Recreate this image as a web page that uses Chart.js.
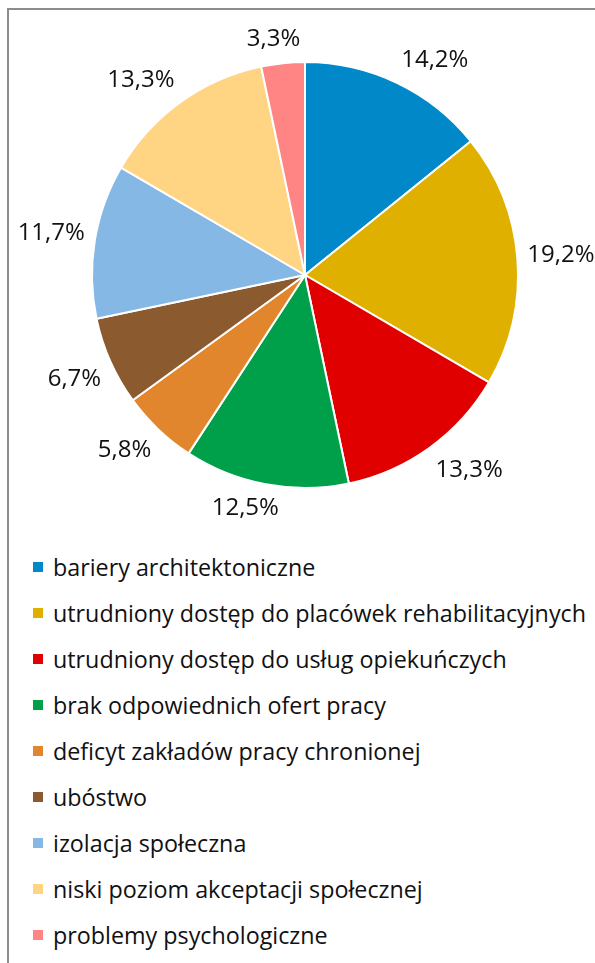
<!DOCTYPE html>
<html>
<head>
<meta charset="utf-8">
<script src="https://cdn.jsdelivr.net/npm/chart.js@4.4.1/dist/chart.umd.min.js"></script>
<style>
  body { margin: 0; background: #fff; font-family: "Open Sans", sans-serif; }
  #frame {
    position: absolute; left: 7px; top: 8px; width: 600px; height: 970px;
    border-left: 2px solid #8c8c8c; border-top: 2px solid #8c8c8c;
  }
  #wrap { position: absolute; left: 0; top: 0; width: 595px; height: 540px; }
  #legend { position: absolute; left: 0; top: 544px; margin: 0; padding: 0; list-style: none; }
  #legend li { height: 46px; display: flex; align-items: center; font-size: 23.3px; color: #111; white-space: nowrap; }
  #legend .box { width: 10px; height: 10px; margin-left: 33px; margin-right: 10px; flex: none; }
</style>
</head>
<body>
<div id="frame"></div>
<div id="wrap"><canvas id="chart" width="595" height="540"></canvas></div>
<ul id="legend"></ul>
<script>
const kategorie = [
  "bariery architektoniczne",
  "utrudniony dostęp do placówek rehabilitacyjnych",
  "utrudniony dostęp do usług opiekuńczych",
  "brak odpowiednich ofert pracy",
  "deficyt zakładów pracy chronionej",
  "ubóstwo",
  "izolacja społeczna",
  "niski poziom akceptacji społecznej",
  "problemy psychologiczne"
];
const procenty = [14.2, 19.2, 13.3, 12.5, 5.8, 6.7, 11.7, 13.3, 3.3];
const kolory = [
  "#0088c8", "#e0b000", "#e00000", "#00a04a", "#e2862e",
  "#8b5a2e", "#86b8e5", "#ffd584", "#ff8585"
];

const clamp = v => Math.max(-1, Math.min(1, v));

// etykiety procentowe na zewnątrz wycinków
const etykiety = {
  id: "etykiety",
  afterDatasetsDraw(chart) {
    const ctx = chart.ctx;
    const meta = chart.getDatasetMeta(0);
    ctx.save();
    ctx.font = '24px "Open Sans"';
    ctx.fillStyle = "#111";
    ctx.textAlign = "center";
    ctx.textBaseline = "middle";
    meta.data.forEach((arc, i) => {
      const tekst = procenty[i].toFixed(1).replace(".", ",") + "%";
      const w = ctx.measureText(tekst).width;
      const h = 28;
      const mid = (arc.startAngle + arc.endAngle) / 2;
      const ux = Math.cos(mid), uy = Math.sin(mid);
      const r = arc.outerRadius + 10;
      const x = arc.x + ux * r + clamp(ux * 3) * w / 2;
      const y = arc.y + uy * r + clamp(uy * 3) * h / 2;
      ctx.fillText(tekst, x, y);
    });
    ctx.restore();
  }
};

const chart = new Chart(document.getElementById("chart"), {
  type: "pie",
  data: {
    labels: kategorie,
    datasets: [{
      data: procenty,
      backgroundColor: kolory,
      borderColor: "#fff",
      borderWidth: 2
    }]
  },
  options: {
    responsive: false,
    animation: false,
    radius: 213,
    layout: { padding: { left: 15, right: 0, top: 10, bottom: 0 } },
    plugins: {
      legend: { display: false },
      tooltip: { enabled: false }
    }
  },
  plugins: [etykiety]
});

// legenda w HTML, po jednej pozycji w wierszu
const lista = document.getElementById("legend");
chart.options.plugins.legend.labels.generateLabels(chart).forEach(item => {
  const li = document.createElement("li");
  const box = document.createElement("span");
  box.className = "box";
  box.style.background = item.fillStyle;
  li.appendChild(box);
  li.appendChild(document.createTextNode(item.text));
  lista.appendChild(li);
});
</script>
</body>
</html>
